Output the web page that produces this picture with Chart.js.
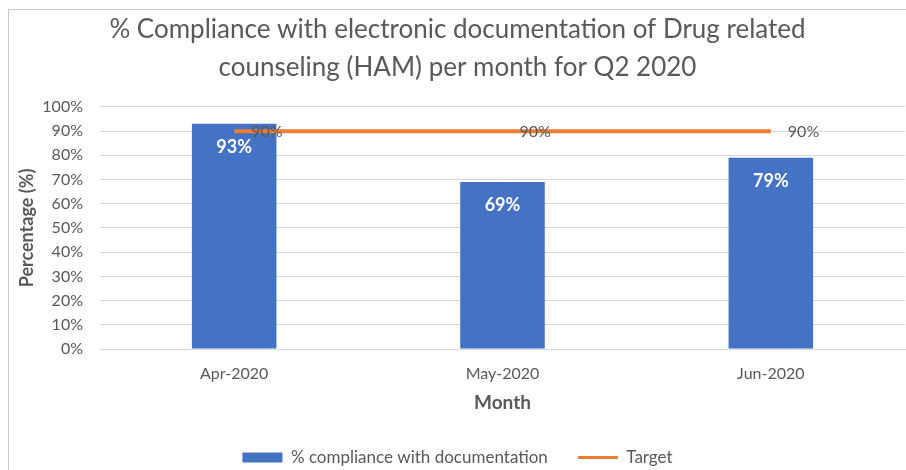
<!DOCTYPE html>
<html>
<head>
<meta http-equiv="Content-Type" content="text/html; charset=UTF-8" />
<title>HAM documentation compliance Q2 2020</title>
<style>
html, body { margin: 0; padding: 0; background: #fff; overflow: hidden }
#frame { position: absolute; left: 8px; top: 9px; width: 1000px; height: 600px; border: 1px solid #c9c9c9 }
#wrap { position: absolute; left: 0; top: 0; width: 906px; height: 470px }
</style>
</head>
<body>
<div id="frame"></div>
<div id="wrap"><canvas id="chart1"></canvas></div>
<script src="https://cdn.jsdelivr.net/npm/chart.js@4.4.1/dist/chart.umd.min.js"></script>
<script>
var months = ["Apr-2020", "May-2020", "Jun-2020"];
var compliance = [93, 69, 79];
var target = [90, 90, 90];
var yTicks = [0, 10, 20, 30, 40, 50, 60, 70, 80, 90, 100];

var FONT = "Lato, 'Open Sans', sans-serif";
var GREY = "#595959";

// draws the value labels: white inside the bars, grey to the right of the target points
var valueLabels = {
	id: 'valueLabels',
	afterDatasetsDraw: function(chart) {
		var ctx = chart.ctx;
		ctx.save();
		chart.data.datasets.forEach(function(ds, i) {
			var meta = chart.getDatasetMeta(i);
			meta.data.forEach(function(el, j) {
				var txt = ds.data[j] + "%";
				if(ds.type == 'line') {
					ctx.font = "16px " + FONT;
					ctx.fillStyle = GREY;
					ctx.textAlign = "left";
					ctx.textBaseline = "middle";
					ctx.fillText(txt, el.x + 17, el.y + 1);
				} else {
					ctx.font = "bold 18px " + FONT;
					ctx.fillStyle = "#ffffff";
					ctx.textAlign = "center";
					ctx.textBaseline = "middle";
					ctx.fillText(txt, el.x, el.y + 23);
				}
			});
		});
		ctx.restore();
	}
};

new Chart(document.getElementById("chart1"), {
	type: 'bar',
	data: {
		labels: months,
		datasets: [
			{
				type: 'line',
				label: "Target",
				data: target,
				borderColor: "#ED7D31",
				backgroundColor: "#ED7D31",
				borderWidth: 4,
				pointRadius: 0,
				fill: false,
				order: 0
			},
			{
				type: 'bar',
				label: "% compliance with documentation",
				data: compliance,
				backgroundColor: "#4472C4",
				borderWidth: 0,
				categoryPercentage: 1,
				barPercentage: 0.315,
				order: 1
			}
		]
	},
	options: {
		responsive: true,
		maintainAspectRatio: false,
		animation: false,
		layout: { padding: { left: 10, right: 1, top: 0, bottom: -6 } },
		plugins: {
			tooltip: { enabled: false },
			title: {
				display: true,
				text: ["% Compliance with electronic documentation of Drug related", "counseling (HAM) per month for Q2 2020"],
				color: GREY,
				font: { family: FONT, size: 26, weight: 'normal', lineHeight: 1.46 },
				padding: { top: 11, bottom: 20 }
			},
			legend: {
				position: 'bottom',
				reverse: true,
				labels: {
					color: GREY,
					font: { family: FONT, size: 17 },
					boxWidth: 40,
					boxHeight: 10,
					padding: 30,
					usePointStyle: true,
					pointStyleWidth: 40,
					generateLabels: function(chart) {
						return chart.data.datasets.map(function(ds, i) {
							var isLine = ds.type == 'line';
							return {
								text: ds.label,
								datasetIndex: i,
								fillStyle: ds.backgroundColor,
								strokeStyle: ds.borderColor || ds.backgroundColor,
								lineWidth: isLine ? 3 : 0,
								pointStyle: isLine ? 'line' : 'rect',
								fontColor: GREY
							};
						});
					}
				}
			}
		},
		scales: {
			x: {
				afterFit: function(axis) { axis.height = 70; },
				grid: { display: false, drawTicks: false },
				border: { color: "#d9d9d9" },
				ticks: { color: GREY, font: { family: FONT, size: 16 }, padding: 15 },
				title: { display: true, text: "Month", color: GREY, font: { family: FONT, size: 19, weight: 'bold' }, padding: 5 }
			},
			y: {
				min: 0,
				max: 100,
				afterBuildTicks: function(axis) {
					axis.ticks = yTicks.map(function(v) { return { value: v }; });
				},
				afterFit: function(axis) { axis.width = 90; },
				grid: { color: "#d9d9d9", drawTicks: false },
				border: { display: false },
				ticks: {
					color: GREY,
					font: { family: FONT, size: 16 },
					padding: 17,
					callback: function(v) { return v + "%"; }
				},
				title: { display: true, text: "Percentage (%)", color: GREY, font: { family: FONT, size: 18, weight: 'bold' }, padding: 6 }
			}
		}
	},
	plugins: [valueLabels]
});
</script>
</body>
</html>
